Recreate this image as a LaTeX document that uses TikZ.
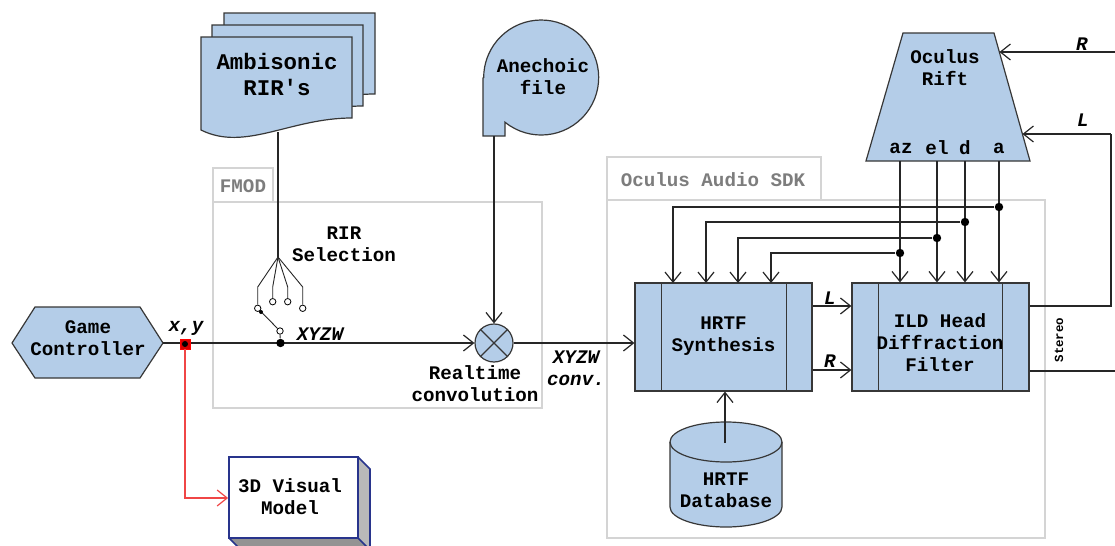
\documentclass[tikz,border=0pt]{standalone}
\usepackage{fontspec}
\setmonofont{Liberation Mono}
\usetikzlibrary{arrows.meta,calc}
\definecolor{bfill}{RGB}{180,205,232}
\definecolor{bdraw}{RGB}{55,55,55}
\definecolor{gbox}{RGB}{212,212,212}
\definecolor{gtext}{RGB}{125,125,125}
\definecolor{navy}{RGB}{40,52,140}
\definecolor{rline}{RGB}{240,70,70}
\begin{document}
\begin{tikzpicture}[x=0.5pt,y=-0.5pt,
 lbl/.style={font=\ttfamily\bfseries\fontsize{9.6}{11}\selectfont, align=center, inner sep=0pt},
 ilbl/.style={font=\ttfamily\bfseries\itshape\fontsize{9.6}{11}\selectfont, align=center, inner sep=0pt},
 shp/.style={fill=bfill, draw=bdraw, line width=0.6pt},
 wire/.style={draw=black!85, line width=0.6pt},
 arr/.style={wire, -{Straight Barb[length=5pt,width=8pt]}},
 dotn/.style={circle, fill=black, inner sep=0pt, minimum size=4.2pt},
 odot/.style={circle, draw=black, fill=white, inner sep=0pt, minimum size=3.2pt, line width=0.4pt},
 grp/.style={draw=gbox, line width=0.8pt},
 grplbl/.style={font=\ttfamily\bfseries\fontsize{9.6}{11}\selectfont, text=gtext, inner sep=0pt},
 blk/.style={shp, rectangle, minimum width=88.5pt, minimum height=54pt, inner sep=0pt}]

\useasboundingbox (0,0) rectangle (1115,546);
\fill[white] (0,0) rectangle (1115,546);

% group frames
\draw[grp] (213,202) rectangle (542,408);
\draw[grp] (213,168) rectangle (273,202);
\node[grplbl] (fmodl) at (243,186) {FMOD};
\draw[grp] (607,200) rectangle (1045,538);
\draw[grp] (607,157) rectangle (821,200);
\node[grplbl] (sdkl) at (713,180) {Oculus Audio SDK};

% Ambisonic RIR's stacked documents
\foreach \dx/\dy in {23/-24, 11/-12, 0/0}{
 \begin{scope}[shift={(\dx,\dy)}]
 \draw[shp] (201,37) -- (352,37) -- (352,118) .. controls (290,118) and (245,152) .. (201,130) -- cycle;
 \end{scope}}
\node[lbl, font=\ttfamily\bfseries\fontsize{11.2}{13}\selectfont] (amb) at (277,74) {Ambisonic\\RIR's};
\coordinate (docb) at (278,132);

% Anechoic file
\draw[shp] (483,78) -- (483,136) -- (505,136) -- (505,122.2) arc[start angle=129, end angle=-180, radius=57.5] -- cycle;
\node[lbl] (ane) at (543,77) {Anechoic\\file};
\coordinate (aneb) at (494,136);

% Game controller
\draw[shp] (12,343) -- (35,307) -- (140,307) -- (163,343) -- (140,378) -- (35,378) -- cycle;
\node[lbl] (gc) at (88,338) {Game\\Controller};
\coordinate (gcR) at (163,343);

% convolution
\node[shp, circle, minimum size=19pt, inner sep=0pt] (conv) at (494,343) {};
\draw[bdraw, line width=0.6pt] (conv.45) -- (conv.225) (conv.135) -- (conv.315);
\node[lbl] (rtc) at (475,384) {Realtime\\convolution};

% main line
\draw[arr] (gcR) -- (conv.west);
\draw[arr] (aneb) -- (conv.north);

% RIR selection switch
\coordinate (fan) at (278,257);
\draw[wire] (docb) -- (fan);
\node[odot] (t1) at (257.7,308.3) {};
\node[odot] (t2) at (272.7,301.7) {};
\node[odot] (t3) at (287.7,301.7) {};
\node[odot] (t4) at (302.7,308.3) {};
\draw[wire, line width=0.45pt] (fan) -- (257.7,287) -- (t1.north);
\draw[wire, line width=0.45pt] (fan) -- (272.7,287) -- (t2.north);
\draw[wire, line width=0.45pt] (fan) -- (287.7,287) -- (t3.north);
\draw[wire, line width=0.45pt] (fan) -- (302.7,287) -- (t4.north);
\node[odot] (sw) at (280,331) {};
\draw[wire, line width=0.45pt] (t1) -- (sw);
\node[circle, fill=black, inner sep=0pt, minimum size=2pt] (piv) at (261,312) {};
\node[dotn] (jn) at (280.5,343) {};
\draw[wire, line width=0.45pt] (sw.south) -- (jn);
\node[lbl] (rirs) at (344,244) {RIR\\Selection};
\node[ilbl] (xyzw1) at (320,334) {XYZW};

% x,y tap
\node[ilbl] (xy) at (186,328) {x,y};
\node[rectangle, fill=red!85!black, draw=red, inner sep=0pt, minimum size=5pt] (rsq) at (185,344) {};
\node[dotn, minimum size=3pt] (rdot) at (185,344) {};

% 3D visual model
\fill[gray!55] (358,457) -- (370,469) -- (370,550) -- (358,538) -- cycle;
\fill[gray!85] (229,538) -- (358,538) -- (370,550) -- (241,550) -- cycle;
\draw[navy, line width=0.8pt] (358,457) -- (370,469) -- (370,550) (358,538) -- (370,550) (229,538) -- (241,550);
\node[rectangle, draw=navy, line width=0.9pt, fill=white, minimum width=64.5pt, minimum height=40.5pt] (vis) at (293.5,497.5) {};
\node[lbl] (vist) at (290,497) {3D Visual\\Model};
\coordinate (rcorner) at (185,498);
\draw[rline, line width=0.6pt, -{Straight Barb[length=5pt,width=8pt]}] (rsq.south) -- (rcorner) -- (vis.west |- rcorner);

% HRTF synthesis
\node[blk] (hs) at (723.5,337) {};
\draw[bdraw, line width=0.6pt] ([xshift=13.5pt]hs.north west) -- ([xshift=13.5pt]hs.south west)
 ([xshift=-13pt]hs.north east) -- ([xshift=-13pt]hs.south east);
\node[lbl] (hst) at (723.5,336) {HRTF\\Synthesis};
\draw[arr] (conv.east) -- (hs.west |- conv.east);
\node[ilbl] (xyzw2) at (576,368) {XYZW\\conv.};

% ILD filter
\node[blk] (ild) at (940.5,337) {};
\draw[bdraw, line width=0.6pt] ([xshift=13.5pt]ild.north west) -- ([xshift=13.5pt]ild.south west)
 ([xshift=-13.5pt]ild.north east) -- ([xshift=-13.5pt]ild.south east);
\node[lbl] (ildt) at (940,343) {ILD Head\\Diffraction\\Filter};
\draw[arr] (hs.east |- 0,306) -- (ild.west |- 0,306);
\draw[arr] (hs.east |- 0,370) -- (ild.west |- 0,370);
\node[ilbl] (lL) at (830,298) {L};
\node[ilbl] (lR) at (830,361) {R};

% HRTF database
\draw[shp] (670,442) -- (670,507) arc[start angle=180, end angle=0, x radius=56, y radius=20] -- (782,442) arc[start angle=0, end angle=-180, x radius=56, y radius=20] -- cycle;
\draw[bdraw, line width=0.6pt] (670,442) arc[start angle=180, end angle=0, x radius=56, y radius=20];
\node[lbl] (dbt) at (726,490) {HRTF\\Database};
\coordinate (dbtop) at (725,443);
\draw[arr] (dbtop) -- (dbtop |- hs.south);

% Oculus Rift
\draw[shp] (903,33) -- (994,33) -- (1030,161) -- (866,161) -- cycle;
\node[lbl] (rift) at (945,68) {Oculus\\Rift};
\node[lbl] (az) at (901,148) {az};
\node[lbl] (el) at (937,148) {el};
\node[lbl] (dd) at (965,148) {d};
\node[lbl] (aa) at (999,148) {a};
\coordinate (ra1) at (900,161);
\coordinate (ra2) at (937,161);
\coordinate (ra3) at (965,161);
\coordinate (ra4) at (999,161);
\foreach \c in {ra1,ra2,ra3,ra4}{\draw[arr] (\c) -- (\c |- ild.north);}
% taps to HRTF
\node[dotn] (d4) at (999,207) {};
\node[dotn] (d3) at (965,222) {};
\node[dotn] (d2) at (937,238) {};
\node[dotn] (d1) at (900,253) {};
\draw[arr] (d4) -- (673,207) -- (673,283);
\draw[arr] (d3) -- (706,222) -- (706,283);
\draw[arr] (d2) -- (738,238) -- (738,283);
\draw[arr] (d1) -- (771,253) -- (771,283);

% outputs back to Rift
\coordinate (riftR) at (999.5,52);
\coordinate (riftL) at (1022.5,134);
\coordinate (lcorner) at (1111,134);
\coordinate (redge) at (1115,52);
\draw[wire] (ild.east |- 0,306) -- (1111,306) -- (lcorner);
\draw[arr] (lcorner) -- (riftL);
\draw[arr] (redge) -- (riftR);
\draw[wire] (ild.east |- 0,371) -- (1115,371);
\node[ilbl] (oR) at (1082,44) {R};
\node[ilbl] (oL) at (1083,120) {L};
\node[font=\ttfamily\bfseries\fontsize{6.2}{7}\selectfont, rotate=90, inner sep=0pt] (st) at (1059,340) {Stereo};
\end{tikzpicture}
\end{document}
